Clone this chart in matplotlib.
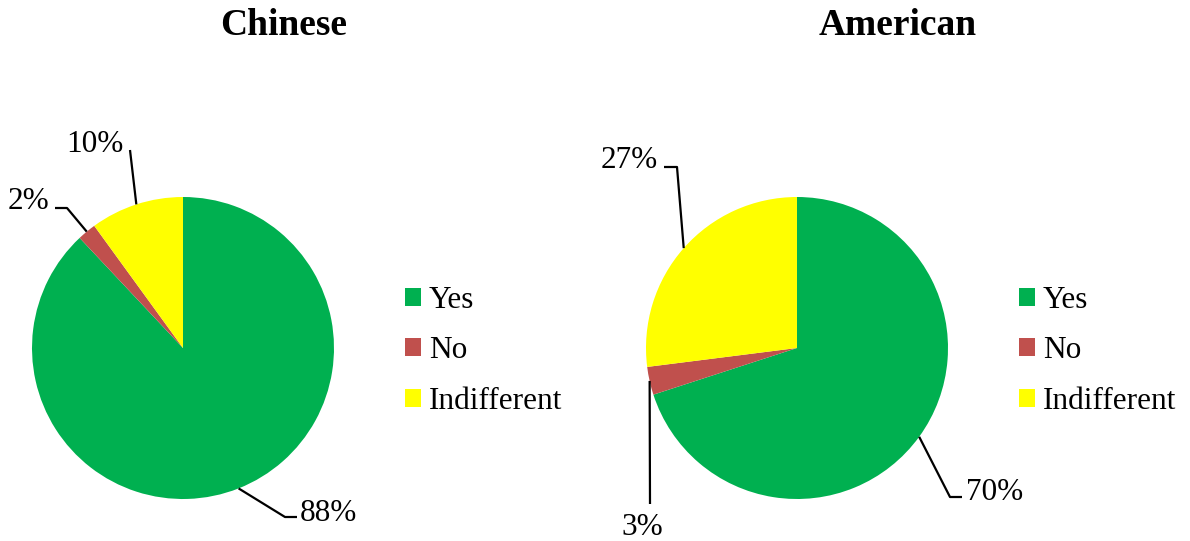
import numpy as np
import matplotlib.pyplot as plt

# ── Data ─────────────────────────────────────────────────────
categories = ["Yes", "No", "Indifferent"]
chinese_values = [88, 2, 10]
american_values = [70, 3, 27]
colors = ["#00B050", "#C0504D", "#FFFF00"]

W, H = 1190, 541
RADIUS = 151
FS = 22.5

plt.rcParams["font.family"] = ["Liberation Serif", "DejaVu Serif"]

fig = plt.figure(figsize=(W / 100, H / 100), dpi=100)
ax = fig.add_axes([0, 0, 1, 1])


def up(y):
    """pixel row (top-down) -> data y (bottom-up)"""
    return H - y


# label layout per slice: elbow points (top-down px), text anchor, ha
pies = [
    {
        "title": "Chinese", "title_x": 284, "center": (183, 348),
        "values": chinese_values, "legend_x": 405,
        "labels": [
            ([(285, 517), (297, 517)], (300, 521), "left"),
            ([(67, 208), (55, 208)], (49, 209), "right"),
            ([(130, 150)], (95, 152), "center"),
        ],
    },
    {
        "title": "American", "title_x": 898, "center": (797, 348),
        "values": american_values, "legend_x": 1019,
        "labels": [
            ([(950, 497), (962, 497)], (966, 500), "left"),
            ([(650, 504)], (642, 535), "center"),
            ([(677, 167), (664, 167)], (658, 168), "right"),
        ],
    },
]

legends = []
for p in pies:
    cx, cy = p["center"]
    wedges, _ = ax.pie(p["values"], colors=colors, startangle=90,
                       counterclock=False, radius=RADIUS,
                       center=(cx, up(cy)), wedgeprops=dict(linewidth=0))

    total = sum(p["values"])
    for w, v, (elbow, txt, ha) in zip(wedges, p["values"], p["labels"]):
        mid = np.deg2rad((w.theta1 + w.theta2) / 2)
        ex = cx + RADIUS * np.cos(mid)
        ey = up(cy) + RADIUS * np.sin(mid)
        xs = [ex] + [e[0] for e in elbow]
        ys = [ey] + [up(e[1]) for e in elbow]
        ax.plot(xs, ys, color="black", linewidth=1.6, solid_capstyle="butt")
        ax.text(txt[0], up(txt[1]), f"{round(100 * v / total)}%",
                ha=ha, va="baseline", fontsize=FS)

    ax.text(p["title_x"], up(35), p["title"], ha="center", va="baseline",
            fontsize=27, fontweight="bold")

    leg = ax.legend(wedges, categories, loc="center left",
                    bbox_to_anchor=(p["legend_x"], up(351)),
                    bbox_transform=ax.transData, frameon=False,
                    fontsize=FS, borderpad=0, borderaxespad=0,
                    handlelength=0.51, handleheight=0.51,
                    handletextpad=0.25, labelspacing=0.69)
    legends.append(leg)

for leg in legends[:-1]:
    ax.add_artist(leg)

ax.set_xlim(0, W)
ax.set_ylim(0, H)
ax.set_aspect("equal")
ax.axis("off")

fig.savefig("out.png", dpi=100)
